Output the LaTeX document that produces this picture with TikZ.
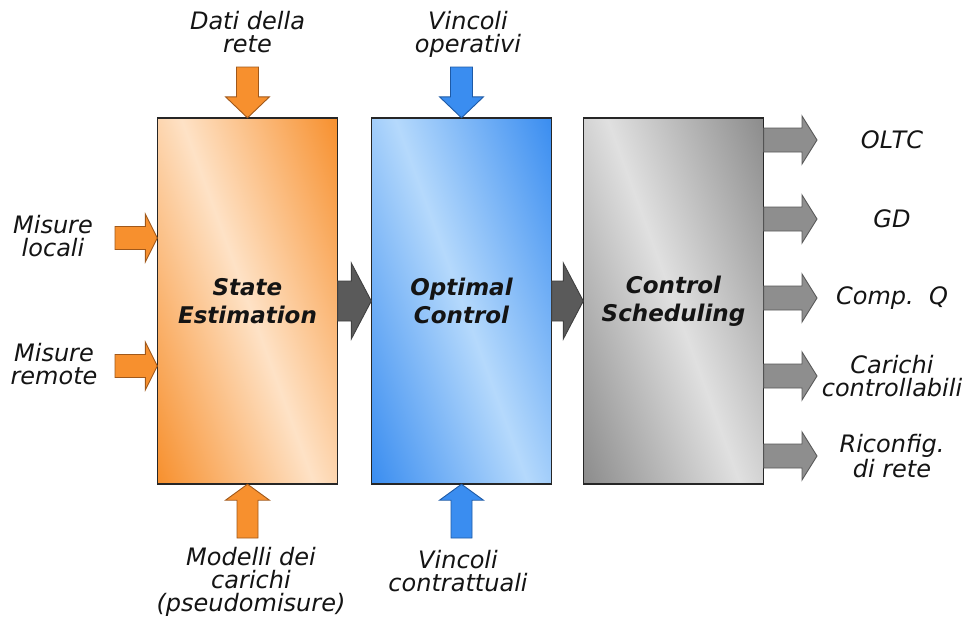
\documentclass[tikz,border=0pt]{standalone}
\usepackage{fontspec}
\setmainfont{DejaVu Sans}
\usetikzlibrary{calc}

% colours
\definecolor{orS}{HTML}{F7902E}
\definecolor{orL}{HTML}{FEE2C6}
\definecolor{orD}{HTML}{A0581A}
\definecolor{blS}{HTML}{3A8DF0}
\definecolor{blL}{HTML}{B5D9FC}
\definecolor{blD}{HTML}{1E5AA6}
\definecolor{grS}{HTML}{8C8C8C}
\definecolor{grL}{HTML}{E0E0E0}
\definecolor{dkA}{HTML}{5A5A5A}
\definecolor{mdA}{HTML}{8E8E8E}
\definecolor{txt}{HTML}{141414}

% diagonal band shadings for the three blocks
\pgfdeclarehorizontalshading{bandorange}{100bp}{color(0bp)=(orS); color(18bp)=(orS); color(50bp)=(orL); color(82bp)=(orS); color(100bp)=(orS)}
\pgfdeclarehorizontalshading{bandblue}{100bp}{color(0bp)=(blS); color(18bp)=(blS); color(50bp)=(blL); color(82bp)=(blS); color(100bp)=(blS)}
\pgfdeclarehorizontalshading{bandgray}{100bp}{color(0bp)=(grS); color(18bp)=(grS); color(50bp)=(grL); color(82bp)=(grS); color(100bp)=(grS)}

% block arrow: style, start, end, body half width, head half width, head length
\newcommand\blkarrow[6]{%
  \coordinate (ba-s) at (#2);
  \coordinate (ba-e) at (#3);
  \coordinate (ba-h) at ($(ba-e)!#6!(ba-s)$);
  \draw[#1]
    ($(ba-s)!#4!90:(ba-e)$) -- ($(ba-h)!#4!-90:(ba-s)$) --
    ($(ba-h)!#5!-90:(ba-s)$) -- (ba-e) --
    ($(ba-h)!#5!90:(ba-s)$) -- ($(ba-h)!#4!90:(ba-s)$) --
    ($(ba-s)!#4!-90:(ba-e)$) -- cycle;
}

\tikzset{
  block/.style={minimum width=180pt, minimum height=366pt, inner sep=0pt,
    align=center, text=txt, shading angle=20,
    font=\fontsize{23pt}{28pt}\selectfont\bfseries\itshape},
  frame/.style={draw=black!85, line width=1.5pt},
  lbl/.style={align=center, inner sep=0pt, text=txt,
    font=\fontsize{24pt}{23pt}\selectfont\itshape},
  orarrow/.style={fill=orS, draw=orD, line width=0.9pt, line join=miter},
  blarrow/.style={fill=blS, draw=blD, line width=0.9pt, line join=miter},
  dkarrow/.style={fill=dkA, draw=black!75, line width=0.9pt, line join=miter},
  mdarrow/.style={fill=mdA, draw=black!65, line width=0.9pt, line join=miter},
}

\begin{document}
\begin{tikzpicture}[x=1pt, y=-1pt]
\useasboundingbox (0,0) rectangle (969,619);

% processing blocks
\node[block, shading=bandorange] (se) at (247.5,301) {State\\Estimation};
\node[block, shading=bandblue] (oc) at (461.5,301) {Optimal\\Control};
\node[block, shading=bandgray] (cs) at (673.5,301) {Control\\Scheduling};
\foreach \b in {se,oc,cs}
  \draw[frame] (\b.north west) rectangle (\b.south east);

% links between blocks
\blkarrow{dkarrow}{se.east}{oc.west}{20pt}{38pt}{20pt}
\blkarrow{dkarrow}{oc.east}{cs.west}{20pt}{38pt}{20pt}

% inputs of the state estimator
\node[lbl] (dati) at (247.5,32) {Dati della\\rete};
\coordinate (dati-in) at (247.5,67);
\blkarrow{orarrow}{dati-in}{se.north}{11pt}{22pt}{21pt}

\node[lbl] (mloc) at (53,236) {Misure\\locali};
\coordinate (mloc-in) at (115,238);
\blkarrow{orarrow}{mloc-in}{mloc-in -| se.west}{11.5pt}{24pt}{12pt}

\node[lbl] (mrem) at (54,364) {Misure\\remote};
\coordinate (mrem-in) at (115,366);
\blkarrow{orarrow}{mrem-in}{mrem-in -| se.west}{11.5pt}{24pt}{12pt}

\node[lbl] (mod) at (251,582) {Modelli dei\\carichi\\(pseudomisure)};
\coordinate (mod-in) at (247.5,538);
\blkarrow{orarrow}{mod-in}{se.south}{10.5pt}{22pt}{16pt}

% constraints of the optimal control
\node[lbl] (vop) at (468,34) {Vincoli\\operativi};
\coordinate (vop-in) at (461.5,67);
\blkarrow{blarrow}{vop-in}{oc.north}{11pt}{22pt}{21pt}

\node[lbl] (vco) at (458,571) {Vincoli\\contrattuali};
\coordinate (vco-in) at (461.5,538);
\blkarrow{blarrow}{vco-in}{oc.south}{10.5pt}{22pt}{16pt}

% outputs of the scheduler
\foreach \yy/\nm/\tx in {140/oltc/OLTC, 219/gd/GD, 298/compq/Comp.~~Q,
    376/car/Carichi\\controllabili, 456/ric/Riconfig.\\di rete}{
  \node[lbl] (\nm) at (892,\yy) {\tx};
  \coordinate (\nm-out) at (817,\yy);
  \blkarrow{mdarrow}{\nm-out -| cs.east}{\nm-out}{12pt}{24pt}{15pt}
}
\end{tikzpicture}
\end{document}
